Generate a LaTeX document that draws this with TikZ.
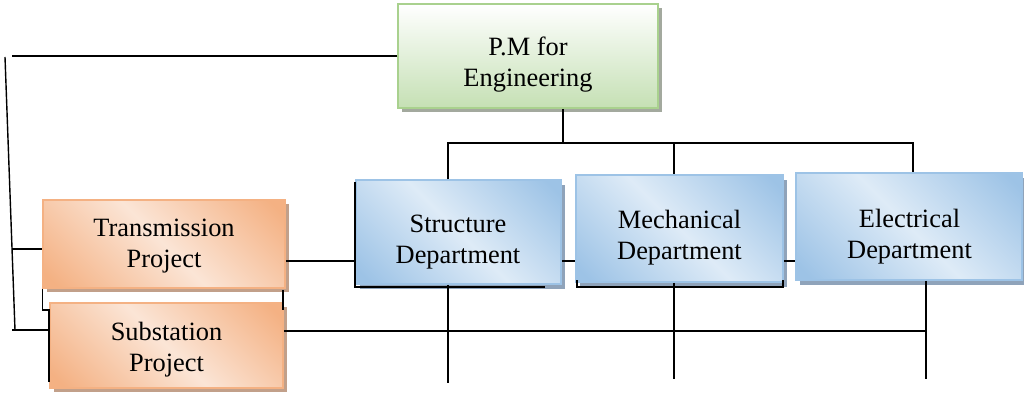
\documentclass[tikz,border=0pt]{standalone}
\usepackage{fontspec}
\setmainfont{Liberation Serif}
\usetikzlibrary{shadows}
\definecolor{gborder}{HTML}{A9D18E}
\definecolor{glight}{HTML}{C5E0B4}
\definecolor{gshadow}{HTML}{A3A99E}
\definecolor{oborder}{HTML}{F4B183}
\definecolor{odark}{HTML}{F4B183}
\definecolor{olight}{HTML}{FBE5D6}
\definecolor{oshadow}{HTML}{C2A08A}
\definecolor{bborder}{HTML}{9DC3E6}
\definecolor{bdark}{HTML}{9DC3E6}
\definecolor{blight}{HTML}{DEEBF7}
\definecolor{bshadow}{HTML}{8FA3BA}
\pgfdeclarehorizontalshading{orangesh}{100bp}{color(0bp)=(odark); color(18bp)=(odark); color(50bp)=(olight); color(82bp)=(odark); color(100bp)=(odark)}
\pgfdeclarehorizontalshading{bluesh}{100bp}{color(0bp)=(bdark); color(18bp)=(bdark); color(50bp)=(blight); color(82bp)=(bdark); color(100bp)=(bdark)}
\begin{document}
\begin{tikzpicture}[x=1pt,y=-1pt,
  box/.style={rectangle, inner sep=0pt, line width=1.5pt},
  gbox/.style={box, draw=gborder, top color=white, bottom color=glight,
    general shadow={fill=gshadow, shadow xshift=4pt, shadow yshift=-4pt}},
  obox/.style={box, draw=oborder, shade, shading=orangesh, shading angle=45,
    general shadow={fill=oshadow, shadow xshift=4pt, shadow yshift=-4pt}},
  bbox/.style={box, draw=bborder, shade, shading=bluesh, shading angle=45,
    general shadow={fill=bshadow, shadow xshift=4pt, shadow yshift=-5pt}},
  txt/.style={align=center, font=\fontsize{26.4}{31}\selectfont, inner sep=0pt},
  conn/.style={line width=1.4pt, black}]
\useasboundingbox (0,0) rectangle (1024,396);

% boxes
\node[gbox, minimum width=260pt, minimum height=104pt] (pm) at (528,56) {};
\node[obox, minimum width=242pt, minimum height=88pt] (tr) at (164,244) {};
\node[obox, minimum width=233pt, minimum height=85pt] (su) at (166.5,345.5) {};
\node[bbox, minimum width=205pt, minimum height=104pt] (st) at (458.5,232) {};
\node[bbox, minimum width=207pt, minimum height=107pt] (me) at (679.5,228.5) {};
\node[bbox, minimum width=226pt, minimum height=107pt] (el) at (909,226.5) {};

% texts
\node[txt] (pmt) at (528,65) {P.M for\\Engineering};
\node[txt] (trt) at (164,246) {Transmission\\Project};
\node[txt] (sut) at (166.5,350) {Substation\\Project};
\node[txt] (stt) at (458,242) {Structure\\Department};
\node[txt] (met) at (679.5,237.5) {Mechanical\\Department};
\node[txt] (elt) at (909.5,237) {Electrical\\Department};

% free ends
\coordinate (ltop) at (5,57);
\coordinate (lbot) at (15,330);
\coordinate (ptop) at (12,56);
\coordinate (tb) at (12,249);
\coordinate (sb) at (12,330);
\coordinate (hub) at (563,143);
\coordinate (hl) at (448,143);
\coordinate (hm) at (674,143);
\coordinate (hr) at (913,143);
\coordinate (bl) at (448,383);
\coordinate (bm) at (674,379);
\coordinate (br) at (926,379);

% left bus
\draw[conn] (ltop) -- (lbot);
\draw[conn] (pm.west) -- (ptop);
\draw[conn] (tb) -- (tb -| tr.west);
\draw[conn] (sb) -- (sb -| su.west);
% between project boxes
\draw[conn] (tr.south west) -- (tr.south west |- 0,310) -- (49,310) -- (49,382);
\draw[conn] (283,290) -- (283,310);
% project to departments
\draw[conn] (tr.east |- 0,261) -- (st.west |- 0,261);
\draw[conn] (st.east |- 0,261) -- (me.west |- 0,261);
\draw[conn] (me.east |- 0,261) -- (el.west |- 0,261);
% PM to departments
\draw[conn] (hub |- pm.south) -- (hub);
\draw[conn] (hl |- st.north) -- (hl) -- (hr) -- (hr |- el.north);
\draw[conn] (hm) -- (hm |- me.north);
% bottom verticals
\draw[conn] (bl |- st.south) -- (bl);
\draw[conn] (bm |- me.south) -- (bm);
\draw[conn] (br |- el.south) -- (br);
\draw[conn] (su.east |- 0,331) -- (br |- 0,331);
% dark edges under department boxes
\draw[conn] (355,182) -- (355,287) -- (545,287);
\draw[conn] (577,280) -- (577,287) -- (783,287) -- (783,280);
\end{tikzpicture}
\end{document}
